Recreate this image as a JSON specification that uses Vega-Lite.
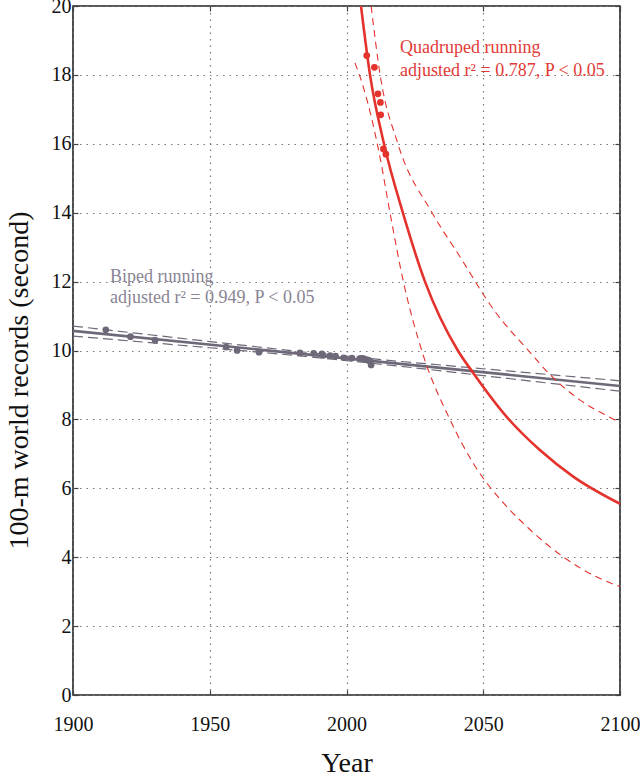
{
  "$schema": "https://vega.github.io/schema/vega-lite/v6.json",
  "width": 547,
  "height": 689,
  "autosize": {"type": "none"},
  "padding": {"left": 73, "top": 6, "right": 20, "bottom": 82},
  "background": "white",
  "config": {
    "view": {"stroke": "#222222", "strokeWidth": 1.6},
    "font": "Liberation Serif",
    "axis": {"labelFont": "Liberation Serif", "titleFont": "Liberation Serif"},
    "text": {"font": "Liberation Serif"}
  },
  "datasets": {
    "bipedPts": [
      {"year": 1912, "value": 10.6},
      {"year": 1921, "value": 10.4},
      {"year": 1930, "value": 10.3},
      {"year": 1956, "value": 10.1},
      {"year": 1960, "value": 10.0},
      {"year": 1968, "value": 9.95},
      {"year": 1983, "value": 9.93},
      {"year": 1988, "value": 9.92},
      {"year": 1991, "value": 9.9},
      {"year": 1991.5, "value": 9.86},
      {"year": 1994, "value": 9.85},
      {"year": 1996, "value": 9.84},
      {"year": 1999, "value": 9.79},
      {"year": 2002, "value": 9.78},
      {"year": 2005, "value": 9.77},
      {"year": 2006, "value": 9.77},
      {"year": 2007, "value": 9.74},
      {"year": 2008, "value": 9.72},
      {"year": 2008.6, "value": 9.69},
      {"year": 2009, "value": 9.58}
    ],
    "bipedFit": [
      {"year": 1900, "value": 10.57},
      {"year": 2100, "value": 8.97}
    ],
    "bipedCI": [
      {"band": "upper", "year": 1900, "value": 10.71},
      {"band": "upper", "year": 1950, "value": 10.26},
      {"band": "upper", "year": 1985, "value": 9.95},
      {"band": "upper", "year": 2020, "value": 9.68},
      {"band": "upper", "year": 2060, "value": 9.4},
      {"band": "upper", "year": 2100, "value": 9.12},
      {"band": "lower", "year": 1900, "value": 10.42},
      {"band": "lower", "year": 1950, "value": 10.08},
      {"band": "lower", "year": 1985, "value": 9.83},
      {"band": "lower", "year": 2020, "value": 9.54},
      {"band": "lower", "year": 2060, "value": 9.18},
      {"band": "lower", "year": 2100, "value": 8.82}
    ],
    "quadPts": [
      {"year": 2007.4, "value": 18.56},
      {"year": 2010.2, "value": 18.22},
      {"year": 2011.5, "value": 17.45},
      {"year": 2012.4, "value": 17.2},
      {"year": 2012.5, "value": 16.84},
      {"year": 2013.5, "value": 15.85},
      {"year": 2014.4, "value": 15.7}
    ],
    "quadFit": [
      {"year": 2005.3, "value": 20.0},
      {"year": 2008.6, "value": 18.0},
      {"year": 2013.7, "value": 16.0},
      {"year": 2020.6, "value": 14.0},
      {"year": 2028.7, "value": 12.0},
      {"year": 2040.7, "value": 10.0},
      {"year": 2046.4, "value": 9.34},
      {"year": 2058.5, "value": 8.08},
      {"year": 2070.7, "value": 7.11},
      {"year": 2082.9, "value": 6.34},
      {"year": 2100, "value": 5.55}
    ],
    "quadCI": [
      {"band": "upper", "year": 2009, "value": 20.0},
      {"band": "upper", "year": 2012.3, "value": 18.0},
      {"band": "upper", "year": 2018.8, "value": 16.0},
      {"band": "upper", "year": 2031.3, "value": 14.0},
      {"band": "upper", "year": 2041.5, "value": 12.72},
      {"band": "upper", "year": 2054.3, "value": 11.13},
      {"band": "upper", "year": 2066.5, "value": 10.0},
      {"band": "upper", "year": 2074.4, "value": 9.3},
      {"band": "upper", "year": 2085.4, "value": 8.56},
      {"band": "upper", "year": 2098.2, "value": 7.98},
      {"band": "upper", "year": 2100, "value": 7.9},
      {"band": "lower", "year": 2003.1, "value": 18.35},
      {"band": "lower", "year": 2006.1, "value": 17.66},
      {"band": "lower", "year": 2012.2, "value": 15.63},
      {"band": "lower", "year": 2015.9, "value": 14.0},
      {"band": "lower", "year": 2020.8, "value": 12.0},
      {"band": "lower", "year": 2027.5, "value": 10.0},
      {"band": "lower", "year": 2037.8, "value": 8.0},
      {"band": "lower", "year": 2046.4, "value": 6.72},
      {"band": "lower", "year": 2058.6, "value": 5.47},
      {"band": "lower", "year": 2065.9, "value": 4.89},
      {"band": "lower", "year": 2074.4, "value": 4.3},
      {"band": "lower", "year": 2097.5, "value": 3.22},
      {"band": "lower", "year": 2100, "value": 3.15}
    ],
    "labels": [
      {"year": 2019.6, "value": 18.64, "text": "Quadruped running", "group": "quad"},
      {"year": 2019.6, "value": 17.97, "text": "adjusted r² = 0.787, P < 0.05", "group": "quad"},
      {"year": 1913.5, "value": 12.0, "text": "Biped running", "group": "biped"},
      {"year": 1913.5, "value": 11.37, "text": "adjusted r² = 0.949, P < 0.05", "group": "biped"}
    ]
  },
  "resolve": {"axis": {"x": "independent", "y": "independent"}},
  "layer": [
    {
      "data": {"name": "bipedFit"},
      "mark": {"type": "line", "color": "#6e6878", "strokeWidth": 2.6, "clip": true},
      "encoding": {
        "x": {
          "field": "year", "type": "quantitative",
          "scale": {"domain": [1900, 2100], "nice": false, "zero": false},
          "axis": {
            "title": "Year", "values": [1900, 1950, 2000, 2050, 2100], "format": "d",
            "labelFontSize": 20, "labelColor": "#111", "titleFontSize": 28, "titleFontWeight": "normal", "titleColor": "#111",
            "labelPadding": 24, "titlePadding": 15, "labelFlush": false, "labelOverlap": false,
            "grid": true, "gridDash": [1.5, 5], "gridColor": "#777", "gridWidth": 1.2,
            "domain": false, "tickSize": -5, "tickColor": "#444", "tickWidth": 1.2,
            "labelFont": "Liberation Serif", "titleFont": "Liberation Serif"
          }
        },
        "y": {
          "field": "value", "type": "quantitative",
          "scale": {"domain": [0, 20], "nice": false},
          "axis": {
            "title": "100-m world records (second)", "values": [0, 2, 4, 6, 8, 10, 12, 14, 16, 18, 20],
            "labelFontSize": 20, "labelColor": "#111", "titleFontSize": 28, "titleFontWeight": "normal", "titleColor": "#111",
            "labelPadding": 7, "titlePadding": 18, "titleY": 374, "labelFlush": false, "labelOverlap": false,
            "grid": true, "gridDash": [1.5, 5], "gridColor": "#777", "gridWidth": 1.2,
            "domain": false, "tickSize": -5, "tickColor": "#444", "tickWidth": 1.2,
            "labelFont": "Liberation Serif", "titleFont": "Liberation Serif"
          }
        }
      }
    },
    {
      "data": {"name": "bipedCI"},
      "mark": {"type": "line", "color": "#6e6878", "strokeWidth": 1.2, "strokeDash": [10, 5], "clip": true},
      "encoding": {
        "x": {"field": "year", "type": "quantitative", "axis": {"orient": "top", "labels": false, "title": null, "grid": false, "domain": false, "tickSize": -5, "tickColor": "#444", "tickWidth": 1.2, "values": [1900, 1950, 2000, 2050, 2100]}},
        "y": {"field": "value", "type": "quantitative", "axis": {"orient": "right", "labels": false, "title": null, "grid": false, "domain": false, "tickSize": -5, "tickColor": "#444", "tickWidth": 1.2, "values": [0, 2, 4, 6, 8, 10, 12, 14, 16, 18, 20]}},
        "detail": {"field": "band"}
      }
    },
    {
      "data": {"name": "bipedPts"},
      "mark": {"type": "circle", "color": "#6e6878", "opacity": 1, "size": 45},
      "encoding": {
        "x": {"field": "year", "type": "quantitative", "axis": null},
        "y": {"field": "value", "type": "quantitative", "axis": null}
      }
    },
    {
      "data": {"name": "quadCI"},
      "mark": {"type": "line", "color": "#e4322d", "strokeWidth": 1.1, "strokeDash": [7, 5], "clip": true, "interpolate": "monotone"},
      "encoding": {
        "x": {"field": "year", "type": "quantitative", "axis": null},
        "y": {"field": "value", "type": "quantitative", "axis": null},
        "detail": {"field": "band"},
        "order": {"field": "year"}
      }
    },
    {
      "data": {"name": "quadFit"},
      "mark": {"type": "line", "color": "#e4322d", "strokeWidth": 2.6, "clip": true, "interpolate": "monotone"},
      "encoding": {
        "x": {"field": "year", "type": "quantitative", "axis": null},
        "y": {"field": "value", "type": "quantitative", "axis": null}
      }
    },
    {
      "data": {"name": "quadPts"},
      "mark": {"type": "circle", "color": "#e4322d", "opacity": 1, "size": 45},
      "encoding": {
        "x": {"field": "year", "type": "quantitative", "axis": null},
        "y": {"field": "value", "type": "quantitative", "axis": null}
      }
    },
    {
      "data": {"name": "labels"},
      "mark": {"type": "text", "align": "left", "baseline": "alphabetic", "fontSize": 18, "font": "Liberation Serif"},
      "encoding": {
        "x": {"field": "year", "type": "quantitative", "axis": null},
        "y": {"field": "value", "type": "quantitative", "axis": null},
        "text": {"field": "text"},
        "color": {"field": "group", "type": "nominal", "scale": {"domain": ["quad", "biped"], "range": ["#e23a36", "#8a8494"]}, "legend": null}
      }
    }
  ]
}
